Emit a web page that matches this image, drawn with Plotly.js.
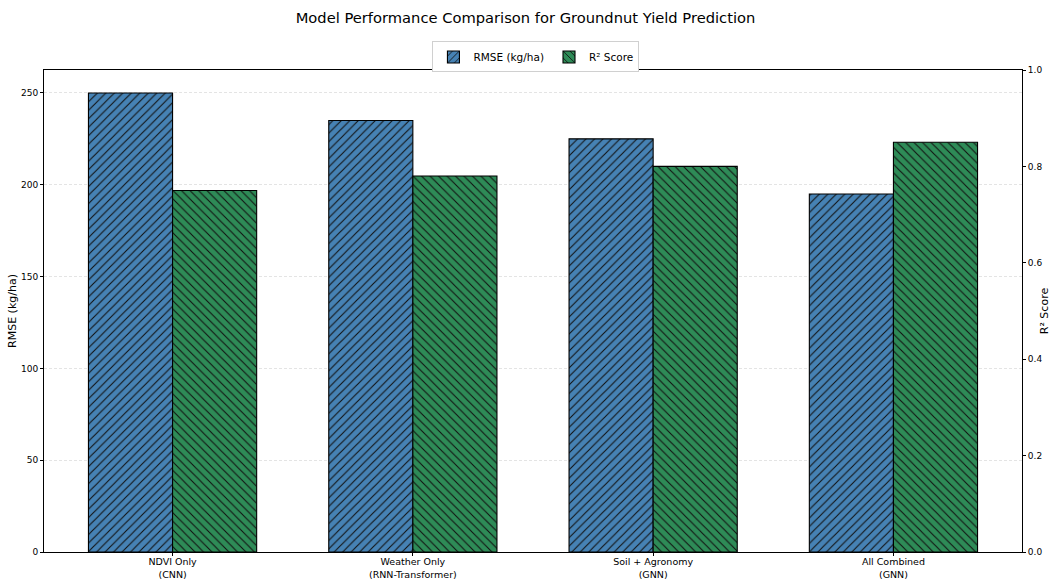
<!DOCTYPE html>
<html>
<head>
<meta charset="utf-8">
<script src="https://cdn.plot.ly/plotly-3.0.1.min.js"></script>
<style>html,body{margin:0;padding:0;background:#fff;}#chart{width:1051px;height:580px;}</style>
</head>
<body>
<div id="chart"></div>
<script>
// Models compared and their scores
const models = ["NDVI Only<br>(CNN)", "Weather Only<br>(RNN-Transformer)", "Soil + Agronomy<br>(GNN)", "All Combined<br>(GNN)"];
const rmse = [250, 235, 225, 195];
const r2 = [0.75, 0.78, 0.80, 0.85];

const barW = 0.35;
const font = "DejaVu Sans, sans-serif";

const rmseTrace = {
  type: "bar", name: "RMSE (kg/ha)", x: models, y: rmse,
  width: barW, offset: -barW, yaxis: "y",
  marker: {
    color: "#4682B4",
    line: {color: "#000", width: 1.1},
    pattern: {shape: "/", fgcolor: "#111", bgcolor: "#4682B4", size: 6, solidity: 0.18}
  },
  hoverinfo: "y"
};
const r2Trace = {
  type: "bar", name: "R² Score", x: models, y: r2,
  width: barW, offset: 0, yaxis: "y2",
  marker: {
    color: "#2E8B57",
    line: {color: "#000", width: 1.1},
    pattern: {shape: "\\", fgcolor: "#111", bgcolor: "#2E8B57", size: 6, solidity: 0.18}
  },
  hoverinfo: "y"
};

const layout = {
  width: 1051, height: 580,
  margin: {l: 44, r: 29, t: 70, b: 28},
  paper_bgcolor: "#fff", plot_bgcolor: "#fff",
  font: {family: font, size: 10, color: "#222"},
  title: {text: "Model Performance Comparison for Groundnut Yield Prediction",
          font: {family: font, size: 14.7, color: "#000"}, x: 0.5, xanchor: "center", y: 0.97, yanchor: "middle"},
  showlegend: true,
  legend: {orientation: "h", x: 0.503, xanchor: "center", y: 1.027, yanchor: "middle",
           bordercolor: "#d0d0d0", borderwidth: 1, bgcolor: "#fff",
           font: {family: font, size: 10.5, color: "#000"}, itemwidth: 30, tracegroupgap: 0},
  xaxis: {type: "category", range: [-0.535, 3.535], showline: true, linecolor: "#000", linewidth: 1,
          mirror: true, ticks: "outside", ticklen: 3, tickcolor: "#000", showgrid: false,
          ticklabelstandoff: -2,
          tickfont: {family: font, size: 9.5, color: "#000"}, automargin: false, fixedrange: true},
  yaxis: {range: [0, 262.5], tickvals: [0, 50, 100, 150, 200, 250], showline: true, linecolor: "#000",
          linewidth: 1, ticks: "outside", ticklen: 3, tickcolor: "#000",
          showgrid: true, gridcolor: "#d8d8d8", griddash: "3px,2px", gridwidth: 0.7, zeroline: false,
          title: {text: "RMSE (kg/ha)", font: {family: font, size: 11, color: "#000"}, standoff: 2},
          tickfont: {family: font, size: 9, color: "#000"}, automargin: false},
  yaxis2: {range: [0, 1], tickvals: [0, 0.2, 0.4, 0.6, 0.8, 1.0], ticktext: ["0.0","0.2","0.4","0.6","0.8","1.0"],
           overlaying: "y", side: "right", showline: true, linecolor: "#000", linewidth: 1,
           ticks: "outside", ticklen: 3, tickcolor: "#000", showgrid: false, zeroline: false,
           title: {text: "R² Score", font: {family: font, size: 11, color: "#000"}, standoff: 4},
           tickfont: {family: font, size: 9, color: "#000"}, automargin: false},
  bargap: 0
};

Plotly.newPlot("chart", [rmseTrace, r2Trace], layout, {displayModeBar: false, staticPlot: true});
</script>
</body>
</html>
